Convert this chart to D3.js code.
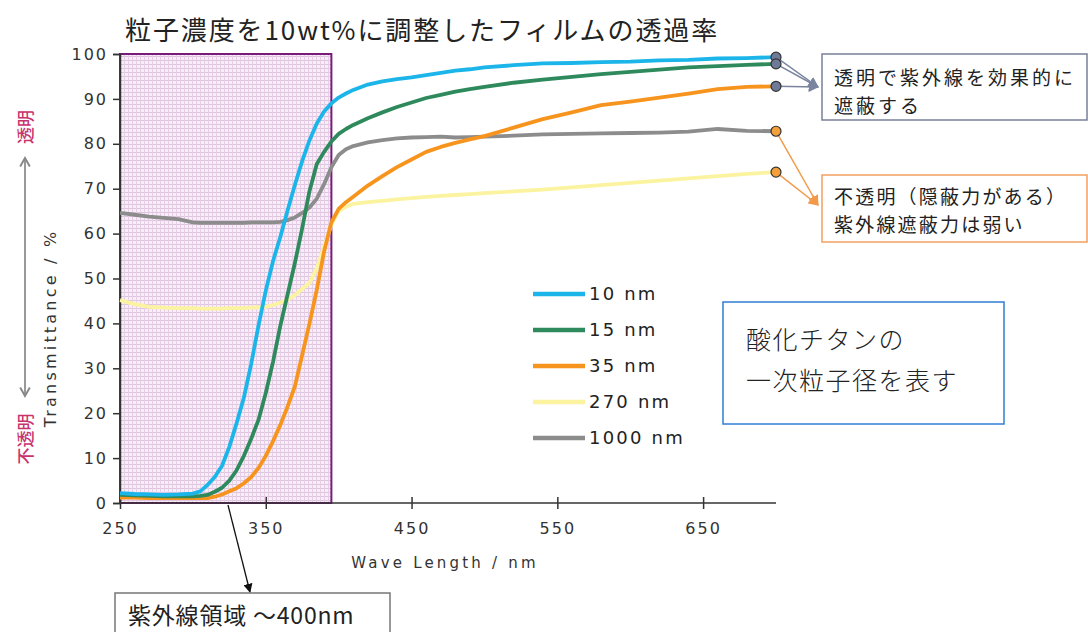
<!DOCTYPE html>
<html>
<head>
<meta charset="utf-8">
<script src="https://cdn.jsdelivr.net/npm/d3@7"></script>
<style>
  html, body { margin: 0; padding: 0; background: #ffffff; }
  svg { display: block; }
</style>
</head>
<body>
<svg id="chart" width="1088" height="632"></svg>
<script>
// ---------------- DATA ----------------
const wavelengths = [250,260,270,280,290,300,305,310,315,320,325,330,335,340,345,350,355,360,365,370,375,380,385,390,395,400,405,410,420,430,440,450,460,470,480,490,500,520,540,560,580,600,620,640,660,680,700];

const t10nm   = [2.2,2.0,1.9,1.8,1.9,2.1,2.6,4.0,5.8,8.3,12.5,17.8,23.5,31,39.5,47.3,53.9,59.3,65.2,70.9,76.2,80.8,84.5,87.2,89,90.3,91.2,92,93.2,93.9,94.4,94.8,95.3,95.8,96.3,96.6,97.0,97.5,97.9,98.0,98.2,98.3,98.6,98.7,99.0,99.1,99.3];
const t15nm   = [1.8,1.7,1.6,1.5,1.5,1.5,1.6,1.8,2.5,3.4,5.0,7.3,10.5,14.3,18.5,24.5,31.5,39.5,46.5,53.5,61.2,69.5,75.5,78.2,80.5,82.2,83.3,84.2,85.7,87.0,88.2,89.2,90.2,90.9,91.6,92.2,92.7,93.6,94.3,94.9,95.5,96.0,96.5,97.0,97.3,97.6,97.8];
const t35nm   = [1.2,1.2,1.1,1.1,1.1,1.1,1.1,1.1,1.4,1.9,2.6,3.3,4.4,5.8,7.8,10.5,13.8,17.4,21.5,26,33,40,47.5,56,62.5,65.5,67,68.2,70.7,72.8,74.8,76.5,78.2,79.3,80.2,81,81.7,83.6,85.5,87,88.6,89.4,90.3,91.2,92.2,92.7,92.8];
const t270nm  = [45.2,44.3,43.7,43.5,43.4,43.4,43.3,43.3,43.3,43.3,43.4,43.4,43.4,43.5,43.6,43.7,44.1,44.6,45.3,46.3,47.7,49,52.3,57,62,65,66,66.6,67,67.3,67.6,67.9,68.2,68.4,68.6,68.8,69,69.4,69.8,70.3,70.8,71.3,71.8,72.3,72.8,73.3,73.7];
const t1000nm = [64.6,64.2,63.8,63.5,63.2,62.5,62.4,62.4,62.4,62.4,62.4,62.4,62.4,62.5,62.5,62.5,62.5,62.6,63,63.6,64.6,65.8,67.8,71,74.8,77.5,78.8,79.5,80.3,80.8,81.2,81.4,81.5,81.6,81.4,81.5,81.6,81.8,82.1,82.2,82.3,82.4,82.5,82.7,83.3,82.9,82.8];

const seriesNames = ["10 nm","15 nm","35 nm","270 nm","1000 nm"];
const seriesValues = [t10nm, t15nm, t35nm, t270nm, t1000nm];
const seriesColors = ["#1cb5ea","#2e8a5c","#f7941d","#fbf3a0","#8c8c8c"];
const drawOrder = [3,4,2,1,0];

const xTicks = [250,350,450,550,650];
const yTicks = [0,10,20,30,40,50,60,70,80,90,100];
const uvRange = [250,395];

const titleText = "粒子濃度を10wt%に調整したフィルムの透過率";
const xLabel = "Wave Length / nm";
const yLabel = "Transmittance / %";
const transparentLabel = "透明";
const opaqueLabel = "不透明";
const sizeNoteLines = ["酸化チタンの","一次粒子径を表す"];
const goodNoteLines = ["透明で紫外線を効果的に","遮蔽する"];
const weakNoteLines = ["不透明（隠蔽力がある）","紫外線遮蔽力は弱い"];
const uvNote = "紫外線領域 ～400nm";
const goodGroup = [0,1,2];
const weakGroup = [4,3];

// ---------------- CHART ----------------
const svg = d3.select("#chart");
const x = d3.scaleLinear().domain([250,700]).range([120,776]);
const y = d3.scaleLinear().domain([0,100]).range([503,54]);
const sans = "'DejaVu Sans', Verdana, sans-serif";
const jp = "'Noto Sans CJK JP', sans-serif";

const defs = svg.append("defs");
const pat = defs.append("pattern").attr("id","grid").attr("patternUnits","userSpaceOnUse")
  .attr("width",4).attr("height",4);
pat.append("rect").attr("width",4).attr("height",4).attr("fill","#f7eef7");
pat.append("rect").attr("width",4).attr("height",1).attr("fill","#dfc4df");
pat.append("rect").attr("width",1).attr("height",4).attr("fill","#e6cfe6");

function marker(id, color) {
  defs.append("marker").attr("id",id).attr("viewBox","0 0 10 10").attr("refX",9).attr("refY",5)
    .attr("markerWidth",7).attr("markerHeight",7).attr("orient","auto-start-reverse")
    .append("path").attr("d","M0,0 L10,5 L0,10 z").attr("fill",color);
}
marker("arrBlack","#111");
marker("arrBlue","#7a849e");
marker("arrOrange","#f39a4a");
defs.append("marker").attr("id","arrGray").attr("viewBox","0 0 10 10").attr("refX",8).attr("refY",5)
  .attr("markerWidth",6).attr("markerHeight",6).attr("orient","auto-start-reverse")
  .append("path").attr("d","M1,1 L8,5 L1,9").attr("fill","none").attr("stroke","#888").attr("stroke-width",1.6);

// Title
svg.append("text").attr("x",125).attr("y",40).attr("font-family",jp).attr("font-size",26)
  .attr("fill","#222").attr("letter-spacing",1.9).text(titleText);

// UV region
svg.append("rect").attr("x",x(uvRange[0])).attr("y",y(100))
  .attr("width",x(uvRange[1])-x(uvRange[0])).attr("height",y(0)-y(100))
  .attr("fill","url(#grid)").attr("stroke","#7a1a7a").attr("stroke-width",2);

// Axes
const yAxis = svg.append("g").attr("transform",`translate(${x(250)},0)`)
  .call(d3.axisLeft(y).tickValues(yTicks).tickSize(7).tickPadding(5));
const xAxis = svg.append("g").attr("transform",`translate(0,${y(0)})`)
  .call(d3.axisBottom(x).tickValues(xTicks).tickSize(6).tickPadding(14).tickSizeOuter(0));
[yAxis,xAxis].forEach(a=>{
  a.selectAll("text").attr("font-family",sans).attr("font-size",16).attr("fill","#333").attr("letter-spacing",2);
  a.selectAll("line,path").attr("stroke","#333").attr("stroke-width",1.5);
});
xAxis.select(".domain").attr("d",`M${x(250)},0H${x(700)}`);
xAxis.selectAll(".tick line").attr("y1",-6);

// Axis labels
svg.append("text").attr("x",445).attr("y",568).attr("text-anchor","middle")
  .attr("font-family",sans).attr("font-size",15).attr("letter-spacing",3.2).attr("fill","#333").text(xLabel);
svg.append("text").attr("transform","translate(56,328) rotate(-90)").attr("text-anchor","middle")
  .attr("font-family",sans).attr("font-size",16).attr("letter-spacing",3.2).attr("fill","#333").text(yLabel);

// Transparent / opaque side indicator
svg.append("line").attr("x1",25).attr("x2",25).attr("y1",396).attr("y2",158)
  .attr("stroke","#999").attr("stroke-width",2)
  .attr("marker-end","url(#arrGray)").attr("marker-start","url(#arrGray)");
svg.append("text").attr("transform","translate(32,127) rotate(-90)").attr("text-anchor","middle")
  .attr("font-family",jp).attr("font-size",17).attr("font-weight",500).attr("fill","#c8336e").text(transparentLabel);
svg.append("text").attr("transform","translate(32,439) rotate(-90)").attr("text-anchor","middle")
  .attr("font-family",jp).attr("font-size",17).attr("font-weight",500).attr("fill","#c8336e").text(opaqueLabel);

// Lines
const line = d3.line().x((d,i)=>x(wavelengths[i])).y(d=>y(d));
drawOrder.forEach(k=>{
  svg.append("path").datum(seriesValues[k]).attr("d",line).attr("fill","none")
    .attr("stroke",seriesColors[k]).attr("stroke-width",3.8).attr("stroke-linejoin","round");
});

// Legend
const legend = svg.append("g");
seriesNames.forEach((n,i)=>{
  const ly = 294 + i*36;
  legend.append("line").attr("x1",533).attr("x2",585).attr("y1",ly).attr("y2",ly)
    .attr("stroke",seriesColors[i]).attr("stroke-width",4.5);
  legend.append("text").attr("x",589).attr("y",ly+6).attr("font-family",sans).attr("font-size",18)
    .attr("letter-spacing",2.2).attr("fill","#222").text(n);
});

// Size note box
svg.append("rect").attr("x",723).attr("y",302).attr("width",281).attr("height",122)
  .attr("fill","#fff").attr("stroke","#2f7fd4").attr("stroke-width",1.5);
const sizeText = svg.append("text").attr("font-family",jp).attr("font-weight",300)
  .attr("font-size",25).attr("letter-spacing",1.5).attr("fill","#222");
sizeNoteLines.forEach((t,i)=>{
  sizeText.append("tspan").attr("x",746).attr("y",349+i*41).text(t);
});

// Endpoint markers + callouts
const lastIdx = wavelengths.length-1;
const goodTip = [818,87], weakTip = [818,205];
goodGroup.forEach(k=>{
  svg.append("line").attr("x1",x(700)).attr("y1",y(seriesValues[k][lastIdx]))
    .attr("x2",goodTip[0]).attr("y2",goodTip[1]).attr("stroke","#7a849e").attr("stroke-width",1.5)
    .attr("marker-end","url(#arrBlue)");
});
weakGroup.forEach(k=>{
  svg.append("line").attr("x1",x(700)).attr("y1",y(seriesValues[k][lastIdx]))
    .attr("x2",weakTip[0]).attr("y2",weakTip[1]).attr("stroke","#f39a4a").attr("stroke-width",1.5)
    .attr("marker-end","url(#arrOrange)");
});
goodGroup.forEach(k=>{
  svg.append("circle").attr("cx",x(700)).attr("cy",y(seriesValues[k][lastIdx])).attr("r",5)
    .attr("fill","#6e7a98").attr("stroke","#333").attr("stroke-width",1.2);
});
weakGroup.forEach(k=>{
  svg.append("circle").attr("cx",x(700)).attr("cy",y(seriesValues[k][lastIdx])).attr("r",5)
    .attr("fill","#f3a03c").attr("stroke","#333").attr("stroke-width",1.2);
});

svg.append("rect").attr("x",822).attr("y",54).attr("width",265).attr("height",66)
  .attr("fill","#fff").attr("stroke","#7a7f98").attr("stroke-width",1.5);
const goodText = svg.append("text").attr("font-family",jp).attr("font-size",19)
  .attr("letter-spacing",3).attr("fill","#222");
goodNoteLines.forEach((t,i)=>{
  goodText.append("tspan").attr("x",834).attr("y",85+i*28).text(t);
});
svg.append("rect").attr("x",822).attr("y",175).attr("width",265).attr("height",67)
  .attr("fill","#fff").attr("stroke","#f3a062").attr("stroke-width",1.5);
const weakText = svg.append("text").attr("font-family",jp).attr("font-size",19)
  .attr("letter-spacing",2.2).attr("fill","#222");
weakNoteLines.forEach((t,i)=>{
  weakText.append("tspan").attr("x",834).attr("y",204+i*28).text(t);
});

// UV region callout
svg.append("line").attr("x1",228).attr("y1",505).attr("x2",250).attr("y2",592)
  .attr("stroke","#111").attr("stroke-width",1.3).attr("marker-end","url(#arrBlack)");
svg.append("rect").attr("x",115).attr("y",593).attr("width",275).attr("height",50)
  .attr("fill","#fff").attr("stroke","#777").attr("stroke-width",1.5);
svg.append("text").attr("x",128).attr("y",624).attr("font-family",jp).attr("font-size",23)
  .attr("letter-spacing",0.8).attr("fill","#222").text(uvNote);
</script>
</body>
</html>
